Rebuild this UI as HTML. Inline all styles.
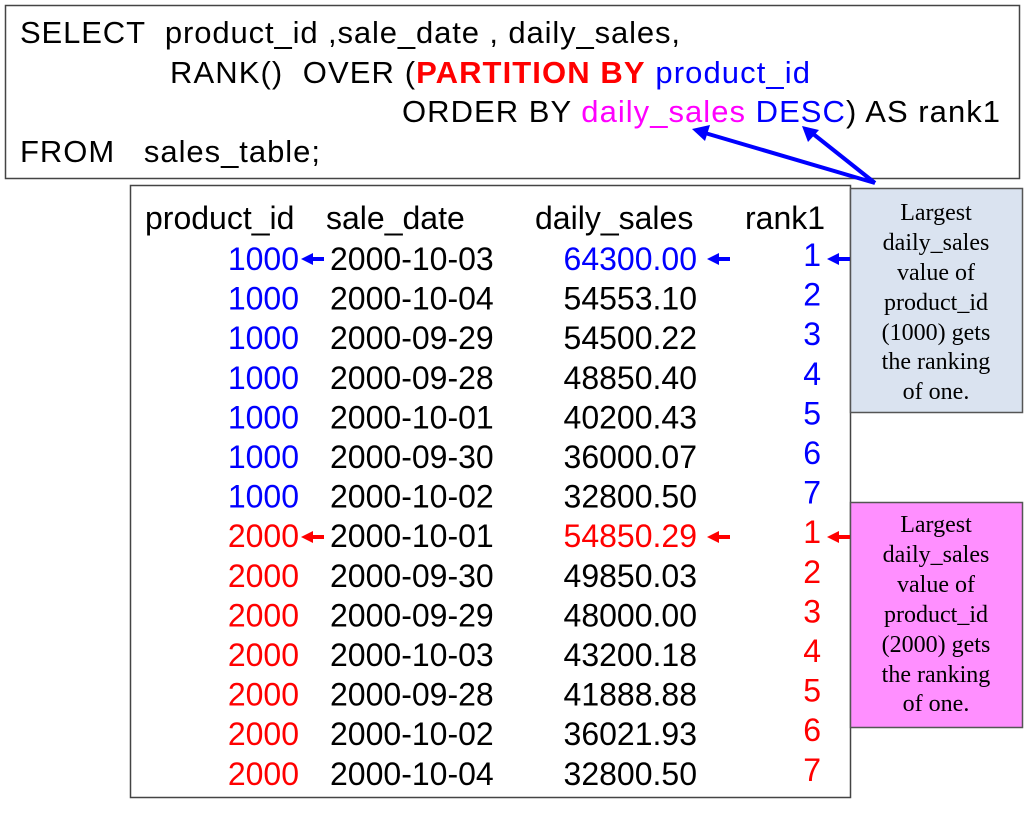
<!DOCTYPE html>
<html><head><meta charset="utf-8"><style>
html,body{margin:0;padding:0;background:#fff;}
svg text{font-family:"Liberation Sans",sans-serif;}
svg text.s{font-family:"Liberation Serif",serif;font-size:24px;}
</style></head><body>
<svg width="1024" height="815" viewBox="0 0 1024 815" xmlns="http://www.w3.org/2000/svg">
<rect x="5.5" y="5.5" width="1014" height="173" fill="#fff" stroke="#444" stroke-width="1.5"/>
<g font-size="31" fill="#000">
<text x="20" y="43" textLength="660">SELECT&#160; product_id ,sale_date , daily_sales,</text>
<text x="170" y="83" textLength="640">RANK()&#160; OVER (<tspan fill="#ff0000" font-weight="bold">PARTITION BY</tspan> <tspan fill="#0000ff">product_id</tspan></text>
<text x="402" y="122" textLength="598">ORDER BY <tspan fill="#ff00ff">daily_sales</tspan> <tspan fill="#0000ff">DESC</tspan>) AS rank1</text>
<text x="20" y="162" textLength="300">FROM&#160;&#160; sales_table;</text>
</g>
<rect x="130.5" y="185.5" width="720" height="612" fill="#fff" stroke="#444" stroke-width="1.5"/>
<rect x="850.5" y="188.5" width="172" height="224" fill="#dae3f0" stroke="#555" stroke-width="1.5"/>
<rect x="850.5" y="502.5" width="172" height="225" fill="#ff8fff" stroke="#555" stroke-width="1.5"/>
<g text-anchor="middle" fill="#000">
<text class="s" x="936" y="220">Largest</text>
<text class="s" x="936" y="250">daily_sales</text>
<text class="s" x="936" y="280">value of</text>
<text class="s" x="936" y="310">product_id</text>
<text class="s" x="936" y="340">(1000) gets</text>
<text class="s" x="936" y="369">the ranking</text>
<text class="s" x="936" y="399">of one.</text>
<text class="s" x="936" y="532">Largest</text>
<text class="s" x="936" y="562">daily_sales</text>
<text class="s" x="936" y="592">value of</text>
<text class="s" x="936" y="622">product_id</text>
<text class="s" x="936" y="652">(2000) gets</text>
<text class="s" x="936" y="682">the ranking</text>
<text class="s" x="936" y="711">of one.</text>
</g>
<g font-size="32" fill="#000">
<text x="145" y="229">product_id</text>
<text x="326" y="229">sale_date</text>
<text x="535" y="229">daily_sales</text>
<text x="745" y="229">rank1</text>
</g>
<g font-size="32">
<g text-anchor="end">
<text x="299" y="270" fill="#00f">1000</text><text x="299" y="309.6" fill="#00f">1000</text><text x="299" y="349.2" fill="#00f">1000</text><text x="299" y="388.8" fill="#00f">1000</text><text x="299" y="428.4" fill="#00f">1000</text><text x="299" y="468" fill="#00f">1000</text><text x="299" y="507.6" fill="#00f">1000</text>
<text x="299" y="547.2" fill="#f00">2000</text><text x="299" y="586.8" fill="#f00">2000</text><text x="299" y="626.4" fill="#f00">2000</text><text x="299" y="666" fill="#f00">2000</text><text x="299" y="705.6" fill="#f00">2000</text><text x="299" y="745.2" fill="#f00">2000</text><text x="299" y="784.8" fill="#f00">2000</text>
<text x="697" y="270" fill="#00f">64300.00</text><text x="697" y="309.6">54553.10</text><text x="697" y="349.2">54500.22</text><text x="697" y="388.8">48850.40</text><text x="697" y="428.4">40200.43</text><text x="697" y="468">36000.07</text><text x="697" y="507.6">32800.50</text>
<text x="697" y="547.2" fill="#f00">54850.29</text><text x="697" y="586.8">49850.03</text><text x="697" y="626.4">48000.00</text><text x="697" y="666">43200.18</text><text x="697" y="705.6">41888.88</text><text x="697" y="745.2">36021.93</text><text x="697" y="784.8">32800.50</text>
<g fill="#00f"><text x="821" y="266">1</text><text x="821" y="305.6">2</text><text x="821" y="345.2">3</text><text x="821" y="384.8">4</text><text x="821" y="424.4">5</text><text x="821" y="464">6</text><text x="821" y="503.6">7</text></g>
<g fill="#f00"><text x="821" y="543.2">1</text><text x="821" y="582.8">2</text><text x="821" y="622.4">3</text><text x="821" y="662">4</text><text x="821" y="701.6">5</text><text x="821" y="741.2">6</text><text x="821" y="780.8">7</text></g>
</g>
<g>
<text x="330" y="270">2000-10-03</text><text x="330" y="309.6">2000-10-04</text><text x="330" y="349.2">2000-09-29</text><text x="330" y="388.8">2000-09-28</text><text x="330" y="428.4">2000-10-01</text><text x="330" y="468">2000-09-30</text><text x="330" y="507.6">2000-10-02</text>
<text x="330" y="547.2">2000-10-01</text><text x="330" y="586.8">2000-09-30</text><text x="330" y="626.4">2000-09-29</text><text x="330" y="666">2000-10-03</text><text x="330" y="705.6">2000-09-28</text><text x="330" y="745.2">2000-10-02</text><text x="330" y="784.8">2000-10-04</text>
</g>
</g>
<g fill="#0000ff">
<rect x="312" y="257" width="12" height="4"/><polygon points="301,259 313,253 313,265"/>
<rect x="718" y="257" width="12" height="4"/><polygon points="707,259 719,253 719,265"/>
<rect x="838" y="257" width="12" height="4"/><polygon points="827,259 839,253 839,265"/>
</g>
<g fill="#ff0000">
<rect x="312" y="535" width="12" height="4"/><polygon points="301,537 313,531 313,543"/>
<rect x="718" y="535" width="12" height="4"/><polygon points="707,537 719,531 719,543"/>
<rect x="838" y="535" width="12" height="4"/><polygon points="827,537 839,531 839,543"/>
</g>
<g stroke="#0000ff" stroke-width="4" fill="none">
<line x1="875" y1="183" x2="705" y2="133"/>
<line x1="875" y1="183" x2="812" y2="133"/>
</g>
<g fill="#0000ff">
<polygon points="692,129 710,125 705,141"/>
<polygon points="802,126 819,130 808,142"/>
</g>
</svg>
</body></html>
